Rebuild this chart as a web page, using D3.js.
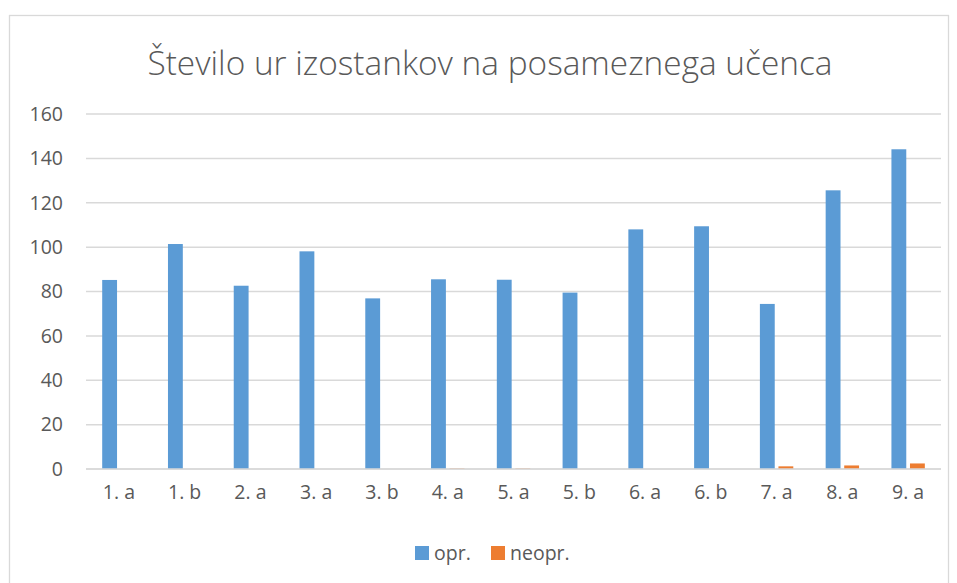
<!DOCTYPE html>
<meta charset="utf-8">
<style>
body {
  margin: 0;
  padding: 0;
  background: #fff;
}
text {
  font-family: "Open Sans", "DejaVu Sans", sans-serif;
  fill: #595959;
}
.grid line {
  stroke: #d9d9d9;
  stroke-width: 1.5px;
}
</style>
<body>
<script src="https://cdn.jsdelivr.net/npm/d3@7"></script>
<script>

var categories = ["1. a", "1. b", "2. a", "3. a", "3. b", "4. a", "5. a", "5. b", "6. a", "6. b", "7. a", "8. a", "9. a"];
var seriesNames = ["opr.", "neopr."];
var opr = [85.2, 101.4, 82.6, 98.1, 76.9, 85.5, 85.3, 79.5, 108, 109.4, 74.4, 125.6, 144.1];
var neopr = [0, 0, 0, 0, 0, 0.2, 0.2, 0, 0, 0, 1.2, 1.6, 2.5];
var yTicks = [0, 20, 40, 60, 80, 100, 120, 140, 160];
var colors = ["#5b9bd5", "#ed7d31"];

var width = 957,
    height = 583;

var svg = d3.select("body").append("svg")
    .attr("width", width)
    .attr("height", height);

// chart frame
svg.append("rect")
    .attr("x", 9.5)
    .attr("y", 15.5)
    .attr("width", 939)
    .attr("height", 600)
    .attr("fill", "#fff")
    .attr("stroke", "#d9d9d9")
    .attr("stroke-width", 1.3);

svg.append("text")
    .attr("x", 490)
    .attr("y", 75)
    .attr("text-anchor", "middle")
    .attr("textLength", 685)
    .attr("lengthAdjust", "spacingAndGlyphs")
    .style("font-size", "33px")
    .style("font-weight", 300)
    .text("Število ur izostankov na posameznega učenca");

var x0 = d3.scaleBand()
    .domain(categories)
    .range([86, 941])
    .paddingInner(0)
    .paddingOuter(0);

var x1 = d3.scaleBand()
    .domain(seriesNames)
    .range([16.2, 49.6])
    .paddingInner(0.2);

var y = d3.scaleLinear()
    .domain([0, 160])
    .range([469, 114]);

// gridlines
svg.append("g")
    .attr("class", "grid")
  .selectAll("line")
    .data(yTicks)
  .enter().append("line")
    .attr("x1", 86)
    .attr("x2", 941)
    .attr("y1", function(d) { return y(d); })
    .attr("y2", function(d) { return y(d); });

// y axis labels
var yAxis = d3.axisLeft(y).tickValues(yTicks).tickSize(0).tickPadding(0);
var ya = svg.append("g")
    .attr("transform", "translate(63,0)")
    .call(yAxis);
ya.select(".domain").remove();
ya.selectAll("text")
    .style("font-size", "19.5px")
    .style("fill", "#595959")
    .style("font-family", "'Open Sans', sans-serif");

// bars
var rows = categories.map(function(c, i) {
  return { cat: c, vals: [opr[i], neopr[i]] };
});

var groups = svg.append("g").selectAll("g")
    .data(rows)
  .enter().append("g")
    .attr("transform", function(d) { return "translate(" + x0(d.cat) + ",0)"; });

groups.selectAll("rect")
    .data(function(d) { return d.vals.map(function(v, j) { return { s: seriesNames[j], v: v, j: j }; }); })
  .enter().append("rect")
    .attr("x", function(d) { return x1(d.s); })
    .attr("width", x1.bandwidth())
    .attr("y", function(d) { return y(d.v); })
    .attr("height", function(d) { return y(0) - y(d.v); })
    .attr("fill", function(d) { return colors[d.j]; });

// redraw baseline over bars
svg.append("line")
    .attr("x1", 86)
    .attr("x2", 941)
    .attr("y1", y(0))
    .attr("y2", y(0))
    .attr("stroke", "#d9d9d9")
    .attr("stroke-width", 1.5);

// x axis labels
var xAxis = d3.axisBottom(x0).tickSize(0).tickPadding(0);
var xa = svg.append("g")
    .attr("transform", "translate(0,485)")
    .call(xAxis);
xa.select(".domain").remove();
xa.selectAll("text")
    .style("font-size", "19.5px")
    .style("fill", "#595959")
    .style("font-family", "'Open Sans', sans-serif");

// legend
var legendX = [415, 491];
var legend = svg.append("g").selectAll("g")
    .data(seriesNames)
  .enter().append("g")
    .attr("transform", function(d, i) { return "translate(" + legendX[i] + ",546)"; });

legend.append("rect")
    .attr("width", 14)
    .attr("height", 14)
    .attr("fill", function(d, i) { return colors[i]; });

legend.append("text")
    .attr("x", 19)
    .attr("y", 14)
    .style("font-size", "19.5px")
    .text(function(d) { return d; });

</script>
